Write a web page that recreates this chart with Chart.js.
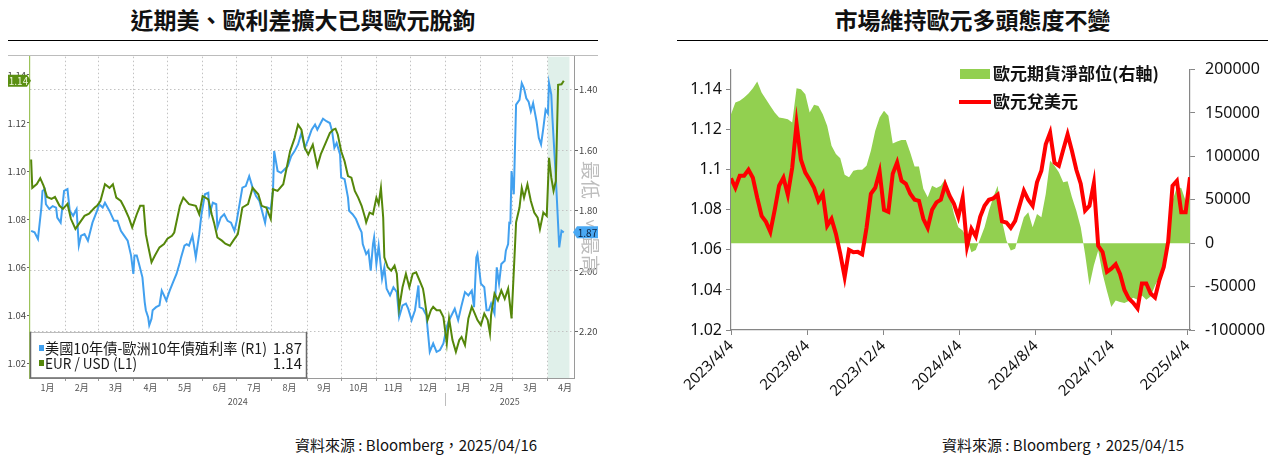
<!DOCTYPE html>
<html>
<head>
<meta charset="utf-8">
<script src="https://cdn.jsdelivr.net/npm/chart.js@4.4.1/dist/chart.umd.min.js"></script>
<style>
  body { margin: 0; width: 1272px; height: 458px; background: #fff; position: relative; overflow: hidden; font-family: "Noto Sans CJK TC", sans-serif; }
  .title { position: absolute; top: 6px; line-height: 26px; font-size: 23px; font-weight: bold; color: #111; text-align: center; }
  .rule { position: absolute; top: 40px; border-top: 1.5px solid #000; }
  .src { position: absolute; top: 435px; width: 400px; line-height: 20px; font-size: 15px; color: #111; text-align: center; }
  #boxL { position: absolute; left: 0; top: 50px; width: 604px; height: 362px; }
  #boxR { position: absolute; left: 660px; top: 50px; width: 612px; height: 350px; }
</style>
</head>
<body>
<div class="title" style="left:8px;width:590px">近期美、歐利差擴大已與歐元脫鉤</div>
<div class="rule" style="left:8px;width:590px"></div>
<div class="title" style="left:677px;width:591px">市場維持歐元多頭態度不變</div>
<div class="rule" style="left:677px;width:591px"></div>
<div style="position:absolute;left:8px;top:55px;width:590px;border-top:1px solid #bcbcbc"></div>
<div id="boxL"><canvas id="left"></canvas></div>
<div id="boxR"><canvas id="right"></canvas></div>
<div class="src" style="left:216px">資料來源 : Bloomberg，2025/04/16</div>
<div class="src" style="left:863px">資料來源 : Bloomberg，2025/04/15</div>

<script>
Chart.defaults.animation = false;
Chart.defaults.font.family = '"Noto Sans CJK TC", sans-serif';

// ---------- left chart (Bloomberg screen): days counted from 2024-01-01 ----------
const monthKeys = ['2024-01','2024-02','2024-03','2024-04','2024-05','2024-06','2024-07','2024-08',
  '2024-09','2024-10','2024-11','2024-12','2025-01','2025-02','2025-03','2025-04'];
const monthLabels = ['1月','2月','3月','4月','5月','6月','7月','8月','9月','10月','11月','12月','1月','2月','3月','4月'];
const yearLabels = ['2024','2025'];
const axisEndDay = 479;            // about 2025-04-23
const shadeDays = [456, 475];      // shaded band from 2025-04-01
const eurTicks = [1.02, 1.04, 1.06, 1.08, 1.10, 1.12, 1.14];
const spreadTicks = [1.40, 1.60, 1.80, 2.00, 2.20];
const seriesNamesL = ['美國10年債-歐洲10年債殖利率 (R1)', 'EUR / USD (L1)'];

const eurDay = [1,2,6,9,12,15,19,22,26,29,33,36,40,44,48,52,57,59,62,66,70,73,76,80,83,87,90,94,97,100,
  102,104,107,110,114,118,121,125,127,132,135,140,146,149,152,157,160,162,165,169,172,176,179,183,187,192,
  196,201,204,208,212,214,218,223,229,233,236,239,242,245,249,253,256,261,264,267,269,271,274,277,280,283,
  286,289,292,295,296,299,302,305,307,309,311,312,315,318,321,323,325,328,331,334,337,340,343,346,347,350,
  353,355,358,361,364,367,369,372,375,378,380,383,386,389,391,394,397,400,403,405,406,409,412,415,418,421,
  424,427,428,431,433,435,438,441,444,447,449,452,455,457,459,461,463,465,468,470];
const eurUsd = [1.1048,1.0930,1.0946,1.0970,1.0938,1.0892,1.0884,1.0892,1.0855,1.0842,1.0863,1.0801,1.0759,
  1.0786,1.0813,1.0822,1.0848,1.0855,1.0875,1.0945,1.0930,1.0945,1.0889,1.0875,1.0848,1.0806,1.0765,1.0820,
  1.0855,1.0855,1.0737,1.0689,1.0620,1.0648,1.0682,1.0696,1.0718,1.0730,1.0744,1.0855,1.0889,1.0862,1.0855,
  1.0820,1.0896,1.0882,1.0820,1.0786,1.0723,1.0710,1.0697,1.0689,1.0710,1.0737,1.0848,1.0862,1.0930,1.0903,
  1.0855,1.0848,1.0800,1.0924,1.0917,1.0945,1.1082,1.1137,1.1193,1.1172,1.1096,1.1069,1.1110,1.1020,1.1069,
  1.1124,1.1158,1.1172,1.1176,1.1152,1.1082,1.1041,1.0979,1.0972,1.0917,1.0889,1.0855,1.0806,1.0786,1.0827,
  1.0820,1.0889,1.0862,1.0930,1.0806,1.0641,1.0599,1.0585,1.0606,1.0572,1.0427,1.0516,1.0572,1.0516,1.0572,
  1.0578,1.0544,1.0510,1.0482,1.0379,1.0420,1.0434,1.0420,1.0420,1.0392,1.0282,1.0386,1.0296,1.0247,1.0296,
  1.0309,1.0275,1.0386,1.0434,1.0413,1.0379,1.0358,1.0406,1.0379,1.0323,1.0400,1.0489,1.0461,1.0503,1.0468,
  1.0510,1.0386,1.0682,1.0786,1.0848,1.0930,1.0889,1.0945,1.0875,1.0827,1.0806,1.0758,1.0827,1.0813,1.1055,
  1.0972,1.0917,1.0958,1.1359,1.1361,1.1376];

const spreadDay = [1,4,7,10,11,13,14,17,20,23,24,27,30,33,35,38,41,43,45,48,51,55,59,61,64,66,70,74,77,80,
  82,86,89,91,92,94,96,99,101,102,104,105,107,108,111,114,116,118,120,123,126,129,132,133,136,138,140,143,
  146,149,151,154,157,158,161,164,165,168,171,174,177,180,182,185,187,190,193,196,199,202,207,209,212,214,
  215,218,221,224,227,230,233,236,239,242,245,248,251,253,256,258,261,264,266,268,270,273,274,277,280,281,
  284,287,290,292,293,296,298,300,302,303,305,307,310,312,314,317,320,323,325,328,331,333,336,339,342,343,
  346,349,352,355,358,361,364,367,369,374,377,380,383,386,389,391,393,394,397,400,402,404,406,409,411,413,
  415,418,419,421,422,423,424,426,428,431,433,435,437,439,441,443,446,448,450,452,454,456,457,459,460,463,
  465,466,468,470];
const spread = [1.867,1.872,1.894,1.790,1.735,1.729,1.779,1.795,1.785,1.790,1.823,1.840,1.735,1.729,1.801,
  1.817,1.795,1.916,1.883,1.878,1.900,1.840,1.801,1.779,1.790,1.774,1.801,1.834,1.834,1.867,1.878,1.900,1.949,
  2.010,1.949,1.949,1.977,2.021,2.103,2.130,2.153,2.180,2.158,2.130,2.120,2.114,2.065,2.081,2.098,2.065,2.037,
  2.010,1.971,1.955,1.916,1.911,1.916,1.883,1.955,1.878,1.812,1.746,1.741,1.812,1.774,1.779,1.856,1.823,1.812,
  1.834,1.840,1.867,1.834,1.768,1.724,1.719,1.686,1.724,1.752,1.768,1.840,1.790,1.795,1.730,1.603,1.669,1.675,
  1.664,1.653,1.620,1.603,1.581,1.543,1.592,1.564,1.532,1.515,1.532,1.510,1.496,1.504,1.510,1.537,1.592,1.576,
  1.614,1.691,1.696,1.757,1.801,1.812,1.828,1.856,1.872,1.911,1.944,1.933,1.999,1.911,1.889,1.977,1.916,2.026,
  1.988,2.059,2.081,2.054,2.070,2.153,2.114,2.108,2.125,2.163,2.130,2.048,2.120,2.125,2.147,2.268,2.240,2.268,
  2.262,2.240,2.185,2.163,2.125,2.163,2.114,2.070,2.081,2.065,2.120,1.955,1.944,2.042,2.054,2.130,2.130,2.108,
  2.141,1.988,2.042,1.977,1.966,1.933,1.911,1.840,1.841,1.669,1.746,1.449,1.433,1.378,1.395,1.428,1.439,1.471,
  1.444,1.504,1.559,1.581,1.527,1.466,1.478,1.378,1.416,1.494,1.691,1.845,1.922,1.867,1.872];

const BLUE = '#41a0ef', GREEN = '#55870a';
const LFONT = '"Liberation Sans Narrow", "Noto Sans CJK TC", sans-serif';

const dayOf = (y, m, d) => (Date.UTC(y, m - 1, d) - Date.UTC(2024, 0, 1)) / 864e5;
const monthStart = monthKeys.map(k => { const [y, m] = k.split('-').map(Number); return dayOf(y, m, 1); });
const monthNext = monthKeys.map(k => { const [y, m] = k.split('-').map(Number); return dayOf(y, m + 1, 1); });
const monthMid = monthStart.map((s, i) => (s + monthNext[i]) / 2);
const yearBreak = dayOf(2025, 1, 1);
const yearTicks = [yearBreak / 2, yearBreak, (yearBreak + axisEndDay) / 2];
const yearTickLabels = [yearLabels[0], '', yearLabels[1]];

const lastSpread = spread[spread.length - 1];
const lastEur = eurUsd[eurUsd.length - 1];

function tag(ctx, x0, x1, y, pointLeft, fill, color, text) {
  ctx.beginPath();
  if (pointLeft) {
    ctx.moveTo(x0, y); ctx.lineTo(x0 + 4, y - 6); ctx.lineTo(x1, y - 6); ctx.lineTo(x1, y + 6); ctx.lineTo(x0 + 4, y + 6);
  } else {
    ctx.moveTo(x0, y - 6); ctx.lineTo(x1 - 4, y - 6); ctx.lineTo(x1, y); ctx.lineTo(x1 - 4, y + 6); ctx.lineTo(x0, y + 6);
  }
  ctx.closePath();
  ctx.fillStyle = fill; ctx.fill();
  ctx.fillStyle = color;
  ctx.font = '10px ' + LFONT;
  ctx.textAlign = 'center'; ctx.textBaseline = 'middle';
  ctx.fillText(text, (x0 + x1) / 2 + (pointLeft ? 2 : -1), y + 0.5);
}

const bbgDecor = {
  id: 'bbgDecor',
  beforeDraw(chart) {
    const {ctx, chartArea: a, scales: {x}} = chart;
    ctx.save();
    ctx.fillStyle = '#e0f0ea';
    const x0 = x.getPixelForValue(shadeDays[0]), x1 = x.getPixelForValue(shadeDays[1]);
    ctx.fillRect(x0, a.top, x1 - x0, a.bottom - a.top);
    ctx.restore();
  },
  afterDraw(chart) {
    const {ctx, chartArea: a, scales: {yL, yR}} = chart;
    ctx.save();
    // inverted-axis note
    ctx.fillStyle = '#bdbdbd';
    ctx.font = '19px "Noto Sans CJK TC"';
    ctx.textAlign = 'center'; ctx.textBaseline = 'middle';
    ctx.save(); ctx.translate(590, 130); ctx.rotate(Math.PI / 2); ctx.fillText('最低', 0, 0); ctx.restore();
    ctx.font = '16px "Noto Sans CJK TC"';
    ctx.fillText('<', 590, 173);
    ctx.font = '19px "Noto Sans CJK TC"';
    ctx.save(); ctx.translate(590, 205); ctx.rotate(Math.PI / 2); ctx.fillText('最高', 0, 0); ctx.restore();
    // last value tags
    tag(ctx, 8, 31, yL.getPixelForValue(lastEur), false, '#5a8f12', '#eef7dc', lastEur.toFixed(2));
    tag(ctx, 573, 598, yR.getPixelForValue(lastSpread), true, '#49a8f3', '#0c1f3a', lastSpread.toFixed(2));
    // legend box
    const bx = a.left + 0.5, by = 282, bw = 276, bh = a.bottom - 282;
    ctx.fillStyle = '#fff'; ctx.fillRect(bx, by, bw, bh);
    ctx.strokeStyle = '#bdbdbd'; ctx.lineWidth = 1;
    ctx.strokeRect(bx, by + 0.5, bw, bh);
    ctx.strokeStyle = '#6a6a6a'; ctx.lineWidth = 1.5;
    ctx.beginPath(); ctx.moveTo(bx, by); ctx.lineTo(bx, by + bh); ctx.lineTo(bx + bw, by + bh); ctx.lineTo(bx + bw, by); ctx.stroke();
    const rows = [[BLUE, seriesNamesL[0], lastSpread, 298, 222], [GREEN, seriesNamesL[1], lastEur, 313, 92]];
    ctx.textBaseline = 'middle';
    rows.forEach(([c, name, v, y, w]) => {
      ctx.fillStyle = c; ctx.fillRect(39, y - 3, 5, 6);
      ctx.fillStyle = '#1a1a1a';
      ctx.font = '15px ' + LFONT;
      ctx.textAlign = 'left'; ctx.fillText(name, 45, y, w);
      ctx.textAlign = 'right'; ctx.fillText(v.toFixed(2), 302, y);
    });
    ctx.restore();
  }
};

new Chart(document.getElementById('left'), {
  type: 'line',
  data: {
    datasets: [
      { label: seriesNamesL[1], data: eurDay.map((d, i) => ({x: d, y: eurUsd[i]})), xAxisID: 'x', yAxisID: 'yL',
        borderColor: GREEN, borderWidth: 2, pointRadius: 0, tension: 0, order: 0 },
      { label: seriesNamesL[0], data: spreadDay.map((d, i) => ({x: d, y: spread[i]})), xAxisID: 'x', yAxisID: 'yR',
        borderColor: BLUE, borderWidth: 2, pointRadius: 0, tension: 0, order: 1 }
    ]
  },
  options: {
    responsive: true,
    maintainAspectRatio: false,
    layout: { padding: { top: 5, right: 4, bottom: 0, left: 0 } },
    plugins: { legend: { display: false }, tooltip: { enabled: false } },
    scales: {
      x: {
        type: 'linear', position: 'bottom', min: 0, max: axisEndDay, weight: 0,
        afterBuildTicks: s => { s.ticks = monthStart.slice(1).map(v => ({value: v})); },
        afterFit: s => { s.height = 4; },
        ticks: { display: false },
        grid: { color: '#c2c2c2', tickColor: '#9a9a9a', tickLength: 3 },
        border: { display: true, color: '#9a9a9a', dash: [1.5, 2.5] }
      },
      xm: {
        type: 'linear', position: 'bottom', min: 0, max: axisEndDay, weight: 1,
        afterBuildTicks: s => { s.ticks = monthMid.map(v => ({value: v})); },
        afterFit: s => { s.height = 11; },
        ticks: { autoSkip: false, maxRotation: 0, padding: 0, color: '#555', font: { size: 9, family: LFONT },
                 callback: (v, i) => monthLabels[i] },
        grid: { display: false, drawTicks: false },
        border: { display: false }
      },
      xy: {
        type: 'linear', position: 'bottom', min: 0, max: axisEndDay, weight: 2,
        afterBuildTicks: s => { s.ticks = yearTicks.map(v => ({value: v})); },
        afterFit: s => { s.height = 19; },
        ticks: { autoSkip: false, maxRotation: 0, padding: -10, color: '#555', font: { size: 9, family: LFONT },
                 callback: (v, i) => yearTickLabels[i] },
        grid: { drawOnChartArea: false, tickLength: 13, color: 'rgba(0,0,0,0)',
                tickColor: c => (c.tick && c.tick.value === yearBreak) ? '#bdbdbd' : 'rgba(0,0,0,0)' },
        border: { display: false }
      },
      yL: {
        type: 'linear', position: 'left', min: 1.0138, max: 1.1476,
        afterBuildTicks: s => { s.ticks = eurTicks.map(v => ({value: v})); },
        afterFit: s => { s.width = 30; },
        ticks: { padding: 1, color: '#444', font: { size: 9.5, family: LFONT }, callback: v => v.toFixed(2) },
        grid: { drawOnChartArea: false, tickLength: 3, tickColor: '#666' },
        border: { display: true, color: '#9cc35a', width: 1.2 }
      },
      yR: {
        type: 'linear', position: 'right', reverse: true, min: 1.2903, max: 2.3545,
        afterBuildTicks: s => { s.ticks = spreadTicks.map(v => ({value: v})); },
        afterFit: s => { s.width = 26; },
        ticks: { padding: 1, color: '#444', font: { size: 9.5, family: LFONT }, callback: v => v.toFixed(2) },
        grid: { color: '#c2c2c2', tickLength: 4, tickColor: '#666' },
        border: { display: true, color: '#9a9a9a', dash: [1.5, 2.5] }
      }
    }
  },
  plugins: [bbgDecor]
});

// ---------- right chart: weekly CFTC data, starting 2023-04-04 ----------
const weekStart = [2023, 4, 4];
const xTickLabels = ['2023/4/4', '2023/8/4', '2023/12/4', '2024/4/4', '2024/8/4', '2024/12/4', '2025/4/4'];
const fxTicks = [1.02, 1.04, 1.06, 1.08, 1.10, 1.12, 1.14];
const posTicks = [-100000, -50000, 0, 50000, 100000, 150000, 200000];
const seriesNamesR = ['歐元期貨淨部位(右軸)', '歐元兌美元'];

const eurNetPosition = [148700,162000,164000,167800,172400,178500,186200,173600,165900,158200,
  150600,144800,144000,142900,139000,178500,177400,171600,150600,159400,
  158200,148700,135200,112300,102700,98000,78900,75900,83500,84700,
  84700,89300,106500,129500,144800,152500,146700,115000,117200,118800,
  118800,104600,88500,88500,62800,52900,66300,63600,66300,74000,
  56700,33700,18400,14600,5000,-10300,-7700,5000,18400,37500,
  52900,66300,26000,3000,-8400,-6500,12600,29900,35600,18400,
  33700,29900,56700,95000,89300,81600,70100,71300,52900,37500,
  18400,-12300,-48700,-25700,-8400,-35200,-55200,-73600,-65900,-67800,
  -69000,-66700,-62800,-65100,-60200,-65100,-61300,-48700,-39100,-23800,
  1100,49000,64400,63600,49000,60500];
const eurUsdWeekly = [1.0957,1.091,1.097,1.097,1.100,1.096,1.086,1.077,1.074,1.069,
  1.080,1.092,1.096,1.0875,1.101,1.123,1.105,1.0986,1.095,1.091,
  1.0845,1.088,1.072,1.0755,1.068,1.058,1.0465,1.060,1.0588,1.059,
  1.0578,1.071,1.088,1.091,1.099,1.080,1.079,1.098,1.1036,1.0945,
  1.093,1.088,1.085,1.0845,1.0755,1.071,1.080,1.0837,1.085,1.0925,
  1.087,1.083,1.0765,1.086,1.0617,1.0705,1.0667,1.0765,1.082,1.085,
  1.0857,1.0875,1.0742,1.0737,1.071,1.0745,1.082,1.0895,1.085,1.082,
  1.0937,1.0995,1.1127,1.1185,1.1036,1.102,1.110,1.1177,1.1094,1.100,
  1.093,1.0796,1.082,1.0932,1.062,1.0589,1.049,1.0506,1.0528,1.048,
  1.040,1.0357,1.0336,1.0308,1.0432,1.0432,1.0382,1.0362,1.0449,1.0515,
  1.064,1.092,1.0945,1.0788,1.0788,1.0962];

const base = Date.UTC(weekStart[0], weekStart[1] - 1, weekStart[2]);
const dayR = s => { const [y, m, d] = s.split('/').map(Number); return (Date.UTC(y, m - 1, d) - base) / 864e5; };
const xTickDays = xTickLabels.map(dayR);
const weekDay = eurUsdWeekly.map((_, i) => i * 7);
const AX = '#868686';

const xlsLegend = {
  id: 'xlsLegend',
  afterDraw(chart) {
    const ctx = chart.ctx;
    ctx.save();
    ctx.font = 'bold 17px "Noto Sans CJK TC"';
    ctx.textAlign = 'left'; ctx.textBaseline = 'middle';
    ctx.fillStyle = '#92D050'; ctx.fillRect(300, 19, 30, 10);
    ctx.fillStyle = '#111'; ctx.fillText(seriesNamesR[0], 333, 24);
    ctx.strokeStyle = '#FF0000'; ctx.lineWidth = 4;
    ctx.beginPath(); ctx.moveTo(299, 52); ctx.lineTo(331, 52); ctx.stroke();
    ctx.fillText(seriesNamesR[1], 333, 52);
    ctx.restore();
  }
};

new Chart(document.getElementById('right'), {
  type: 'line',
  data: {
    datasets: [
      { label: seriesNamesR[1], data: weekDay.map((d, i) => ({x: d, y: eurUsdWeekly[i]})), yAxisID: 'yL',
        borderColor: '#FF0000', borderWidth: 4, pointRadius: 0, tension: 0, order: 0 },
      { label: seriesNamesR[0], data: weekDay.map((d, i) => ({x: d, y: eurNetPosition[i]})), yAxisID: 'yR',
        borderWidth: 0, borderColor: 'rgba(0,0,0,0)', backgroundColor: '#92D050', fill: 'origin',
        pointRadius: 0, tension: 0, order: 1 }
    ]
  },
  options: {
    responsive: true,
    maintainAspectRatio: false,
    layout: { padding: { top: 0, right: 0, bottom: 0, left: 0 } },
    plugins: { legend: { display: false }, tooltip: { enabled: false } },
    scales: {
      x: {
        type: 'linear', min: 0, max: weekDay[weekDay.length - 1],
        afterBuildTicks: s => { s.ticks = xTickDays.map(v => ({value: v})); },
        afterFit: s => { s.height = 70; },
        ticks: { autoSkip: false, minRotation: 45, maxRotation: 45, padding: 2, color: '#111',
                 font: { size: 15, family: '"Noto Sans", sans-serif' }, callback: (v, i) => xTickLabels[i] },
        grid: { drawOnChartArea: false, tickLength: 5, color: AX },
        border: { display: true, color: AX, width: 1.2 }
      },
      yL: {
        type: 'linear', position: 'left', min: 1.02, max: 1.15,
        afterBuildTicks: s => { s.ticks = fxTicks.map(v => ({value: v})); },
        afterFit: s => { s.width = 71; },
        ticks: { padding: 4, color: '#111', font: { size: 16, family: '"Noto Sans", sans-serif' },
                 callback: v => String(+v.toFixed(2)) },
        grid: { drawOnChartArea: false, tickLength: 5, color: AX },
        border: { display: true, color: AX, width: 1.2 }
      },
      yR: {
        type: 'linear', position: 'right', min: -100000, max: 200000,
        afterBuildTicks: s => { s.ticks = posTicks.map(v => ({value: v})); },
        afterFit: s => { s.width = 82; },
        ticks: { padding: 10, color: '#111', font: { size: 16, family: '"Noto Sans", sans-serif' },
                 callback: v => String(v) },
        grid: { drawOnChartArea: false, tickLength: 5, color: AX },
        border: { display: true, color: AX, width: 1.2 }
      }
    }
  },
  plugins: [xlsLegend]
});
</script>
</body>
</html>
